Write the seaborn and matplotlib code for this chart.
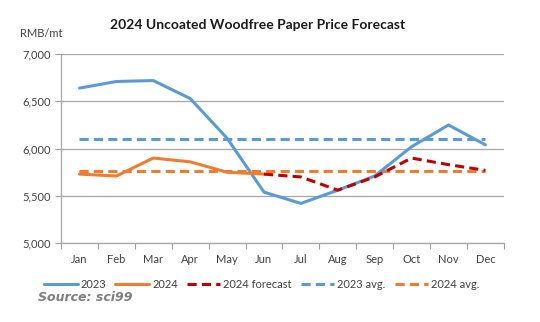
import numpy as np
import pandas as pd
import seaborn as sns
import matplotlib.pyplot as plt
from matplotlib.ticker import FixedLocator, FuncFormatter

months = ["Jan", "Feb", "Mar", "Apr", "May", "Jun", "Jul", "Aug", "Sep", "Oct", "Nov", "Dec"]
price_2023 = [6640, 6710, 6720, 6530, 6110, 5540, 5420, 5560, 5710, 6020, 6250, 6040]
price_2024 = [5730, 5710, 5900, 5860, 5750, 5730, None, None, None, None, None, None]
forecast_2024 = [None, None, None, None, None, 5730, 5700, 5560, 5700, 5900, 5830, 5770]
avg_2023 = 6100
avg_2024 = 5760

sns.set_theme(style="white")
plt.rcParams['font.family'] = ['Lato', 'DejaVu Sans']

x = np.arange(len(months))
df = pd.DataFrame({
    "x": x,
    "2023": price_2023,
    "2024": pd.to_numeric(pd.Series(price_2024), errors="coerce"),
    "2024 forecast": pd.to_numeric(pd.Series(forecast_2024), errors="coerce"),
    "2023 avg.": [avg_2023] * len(months),
    "2024 avg.": [avg_2024] * len(months),
})

fig = plt.figure(figsize=(5.4, 3.22), dpi=100)
ax = fig.add_axes([0.113, 0.245, 0.82, 0.587])

blue = "#5B9BD5"
orange = "#ED7D31"
red = "#C00000"

sns.lineplot(data=df, x="x", y="2023 avg.", ax=ax, color=blue, lw=2.2,
             label="2023 avg.", zorder=3)
ax.lines[-1].set_dashes([3, 1.7])
sns.lineplot(data=df, x="x", y="2024 avg.", ax=ax, color=orange, lw=2.2,
             label="2024 avg.", zorder=3)
ax.lines[-1].set_dashes([3, 1.7])
sns.lineplot(data=df, x="x", y="2023", ax=ax, color=blue, lw=2.2, label="2023", zorder=4)
sns.lineplot(data=df.dropna(subset=["2024"]), x="x", y="2024", ax=ax, color=orange, lw=2.2,
             label="2024", zorder=4)
sns.lineplot(data=df.dropna(subset=["2024 forecast"]), x="x", y="2024 forecast", ax=ax,
             color=red, lw=2.2, label="2024 forecast", zorder=5)
ax.lines[-1].set_dashes([3, 1.7])

ax.set_xlim(-0.5, 11.5)
ax.set_ylim(5000, 7000)
ax.set_yticks([5000, 5500, 6000, 6500, 7000])
ax.yaxis.set_major_formatter(FuncFormatter(lambda v, p: f"{int(v):,}"))
ax.set_xticks(x)
ax.set_xticklabels(months)
ax.xaxis.set_minor_locator(FixedLocator(np.arange(-0.5, 12, 1)))
ax.tick_params(axis="x", which="major", length=0, labelsize=8, pad=8, colors="#404040")
ax.tick_params(axis="x", which="minor", length=4, width=0.8, color="#A0A0A0", bottom=True)
ax.tick_params(axis="y", which="major", length=4, width=0.8, color="#A0A0A0", left=True,
               labelsize=8, colors="#404040")
ax.grid(axis="y", color="#A6A6A6", lw=0.9)
ax.set_axisbelow(True)
ax.set_xlabel("")
ax.set_ylabel("")
for s in ["top", "right"]:
    ax.spines[s].set_visible(False)
for s in ["left", "bottom"]:
    ax.spines[s].set_color("#A6A6A6")
    ax.spines[s].set_linewidth(0.9)

handles, labels = ax.get_legend_handles_labels()
order = ["2023", "2024", "2024 forecast", "2023 avg.", "2024 avg."]
hmap = dict(zip(labels, handles))
ax.get_legend().remove()
leg = fig.legend([hmap[k] for k in order], order, loc="center", bbox_to_anchor=(0.485, 0.118),
                 ncol=5, frameon=False, fontsize=8, handlelength=3.0, columnspacing=0.8,
                 handletextpad=0.3)
for t in leg.get_texts():
    t.set_color("#404040")

fig.text(0.477, 0.922, "2024 Uncoated Woodfree Paper Price Forecast", ha="center", va="center",
         fontsize=10, fontweight="bold", color="#1a1a1a")
fig.text(0.037, 0.897, "RMB/mt", ha="left", va="center", fontsize=8, color="#404040")
fig.text(0.07, 0.075, "Source: sci99", ha="left", va="center", fontsize=9,
         fontweight="bold", fontstyle="italic", color="#7f7f7f", family=["DejaVu Sans"])

fig.savefig("out.png", dpi=100)
